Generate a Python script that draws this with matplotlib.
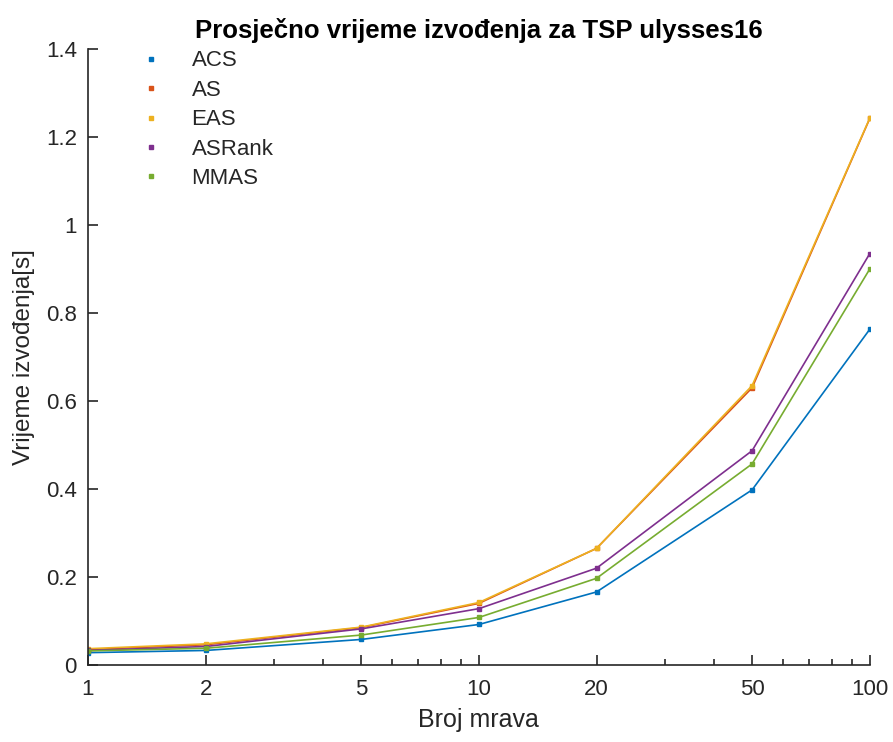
import matplotlib
matplotlib.use('Agg')
import matplotlib.pyplot as plt
from matplotlib.ticker import FixedLocator, NullFormatter, LogLocator

plt.rcParams['font.family'] = ['Liberation Sans', 'DejaVu Sans']

ants = [1, 2, 5, 10, 20, 50, 100]
names = ['ACS', 'AS', 'EAS', 'ASRank', 'MMAS']
acs = [0.028, 0.033, 0.058, 0.092, 0.166, 0.398, 0.763]
as_ = [0.035, 0.046, 0.085, 0.140, 0.265, 0.630, 1.242]
eas = [0.037, 0.048, 0.086, 0.142, 0.265, 0.635, 1.243]
asrank = [0.033, 0.042, 0.082, 0.128, 0.220, 0.487, 0.935]
mmas = [0.032, 0.038, 0.068, 0.108, 0.197, 0.457, 0.900]
colors = ['#0072BD', '#D95319', '#EDB120', '#7E2F8E', '#77AC30']

ink = '#262626'

fig = plt.figure(figsize=(8.93, 7.42), dpi=100)
ax = fig.add_axes([0.0985, 0.1038, 0.8755, 0.8302])

for name, vals, c in zip(names, [acs, as_, eas, asrank, mmas], colors):
	ax.plot(ants, vals, color=c, lw=1.2, marker='s', ms=3, label=name)

ax.set_xscale('log')
ax.set_xlim(1, 100)
ax.set_ylim(0, 1.4)
ax.xaxis.set_major_locator(FixedLocator(ants))
ax.set_xticklabels([str(a) for a in ants])
ax.xaxis.set_minor_locator(LogLocator(base=10, subs=range(2, 10)))
ax.xaxis.set_minor_formatter(NullFormatter())
ax.set_yticks([0, 0.2, 0.4, 0.6, 0.8, 1.0, 1.2, 1.4])
ax.set_yticklabels(['0', '0.2', '0.4', '0.6', '0.8', '1', '1.2', '1.4'])

ax.spines['top'].set_visible(False)
ax.spines['right'].set_visible(False)
for s in ['left', 'bottom']:
	ax.spines[s].set_color(ink)
	ax.spines[s].set_linewidth(1.2)
ax.tick_params(which='both', direction='in', colors=ink, labelsize=16, width=1.2)
ax.tick_params(which='major', length=7)
ax.tick_params(which='minor', length=4)
ax.tick_params(axis='x', pad=10)
ax.tick_params(axis='y', pad=8)

ax.set_xlabel('Broj mrava', fontsize=18, color=ink, labelpad=6)
ax.set_ylabel('Vrijeme izvođenja[s]', fontsize=17.5, color=ink, labelpad=8)
ax.set_title('Prosječno vrijeme izvođenja za TSP ulysses16', fontsize=18.5, fontweight='bold', color='black', pad=8)

leg = ax.legend(loc='upper left', bbox_to_anchor=(0.05, 1.03), frameon=False, fontsize=16,
	handlelength=0.4, handletextpad=1.6, labelspacing=0.38, markerscale=1.2)
for h in leg.legend_handles:
	h.set_linestyle('none')
for t in leg.get_texts():
	t.set_color(ink)

fig.savefig('out.png', dpi=100)
